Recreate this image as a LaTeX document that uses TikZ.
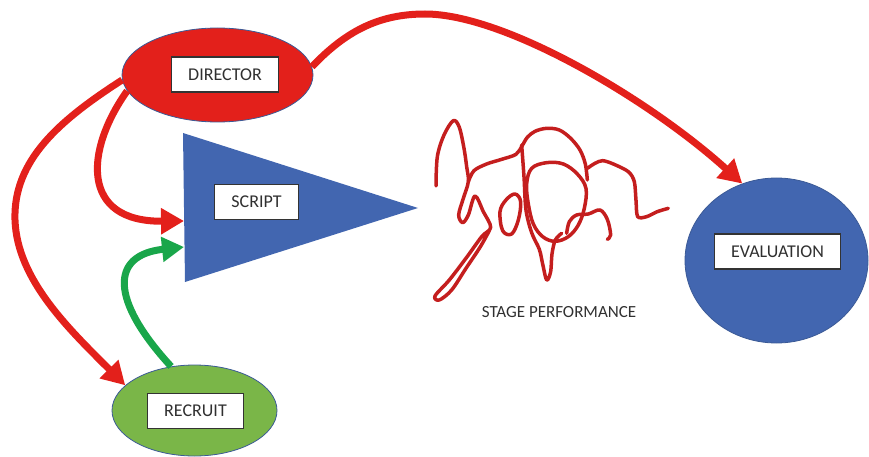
\documentclass[tikz,border=0pt]{standalone}
\usepackage{fontspec}
\setmainfont{Carlito}
\usetikzlibrary{shapes.geometric,arrows.meta}
\definecolor{myred}{HTML}{E3201B}
\definecolor{myblue}{HTML}{4266B0}
\definecolor{mygreen}{HTML}{7AB648}
\definecolor{arrgreen}{HTML}{19A64A}
\definecolor{edge}{HTML}{3B5A96}
\definecolor{scrib}{HTML}{C41E1E}
\definecolor{txt}{HTML}{303030}
\begin{document}
\begin{tikzpicture}[x=1pt,y=-1pt,
  blob/.style={ellipse, draw=edge, line width=0.8pt, inner sep=0pt},
  label/.style={draw=black!80, line width=1.1pt, fill=white, text=txt,
    font=\fontsize{18}{20}\selectfont, inner xsep=17pt, inner ysep=0pt, minimum height=35pt},
  redarrow/.style={draw=myred, line width=7pt, -{Triangle[length=23pt,width=25pt]}},
  greenarrow/.style={draw=arrgreen, line width=7pt, -{Triangle[length=22pt,width=24pt]}},
  scribble/.style={draw=scrib, line width=3.5pt, line join=round, line cap=round}]
\useasboundingbox (0,0) rectangle (869,457);

% shapes
\node[blob, fill=myred, minimum width=191pt, minimum height=94pt] (dir) at (217.5,75) {};
\node[blob, fill=mygreen, minimum width=165pt, minimum height=91pt] (rec) at (194.5,410.5) {};
\node[blob, fill=myblue, minimum width=183pt, minimum height=165pt] (eval) at (776.5,260.5) {};
\fill[myblue] (183,133) -- (418,208) -- (185,282) -- cycle;
\coordinate (sA) at (184,221);
\coordinate (sB) at (184,247);

% labels
\node[label] (dirl) at (225,74.5) {DIRECTOR};
\node[label] (scrl) at (256.5,202) {SCRIPT};
\node[label] (recl) at (195.5,411) {RECRUIT};
\node[label] (evall) at (777.5,251.5) {EVALUATION};
\node[text=txt, font=\fontsize{17}{19}\selectfont] (stage) at (559,312) {STAGE PERFORMANCE};

% connectors
\draw[redarrow] (dir.5) .. controls (345,32) and (378,14) .. (425,14)
  .. controls (505,14) and (650,100) .. (eval.114);
\draw[redarrow] (dir.190) .. controls (85,150) and (80,222) .. (sA);
\draw[redarrow] (dir.183) .. controls (60,120) and (13,160) .. (15,220)
  .. controls (17,280) and (70,330) .. (rec.160);
\draw[greenarrow] (rec.118) .. controls (110,300) and (110,255) .. (sB);

% scribble
\begin{scope}[shift={(400,100)}, scale=0.3333]
\draw[scribble] plot[smooth, tension=0.55] coordinates {(108,258) (112,170) (132,105) (160,62) (178,82) (192,145) (200,200) (205,245) (190,295) (176,345) (188,368) (205,345) (225,288) (250,335) (272,382) (245,410) (200,472) (148,540) (105,588) (118,600) (155,570) (198,505) (240,442) (268,392)};
\draw[scribble] plot[smooth, tension=0.55] coordinates {(205,245) (222,212) (260,192) (305,178) (348,163) (366,138) (382,112) (405,94) (440,85) (478,90) (512,115) (540,150) (556,192) (562,240)};
\draw[scribble] plot[smooth cycle, tension=0.6] coordinates {(395,205) (440,188) (490,192) (532,222) (558,265) (553,325) (535,375) (505,410) (465,424) (428,410) (400,372) (385,312) (380,252)};
\draw[scribble] plot[smooth, tension=0.55] coordinates {(365,135) (372,230) (378,330) (395,398) (418,448) (428,492) (440,540) (452,515) (456,462) (466,420) (485,400)};
\draw[scribble] plot[smooth cycle, tension=0.6] coordinates {(300,335) (318,300) (345,282) (362,305) (355,360) (335,402) (308,392)};
\draw[scribble] plot[smooth, tension=0.55] coordinates {(500,400) (508,365) (530,345) (565,342) (600,330) (622,358) (632,405) (622,418)};
\draw[scribble] plot[smooth, tension=0.5] coordinates {(562,205) (585,190) (608,182) (640,192) (685,215) (703,245) (708,300) (713,350) (740,350) (772,335) (805,325)};
\end{scope}
\end{tikzpicture}
\end{document}
